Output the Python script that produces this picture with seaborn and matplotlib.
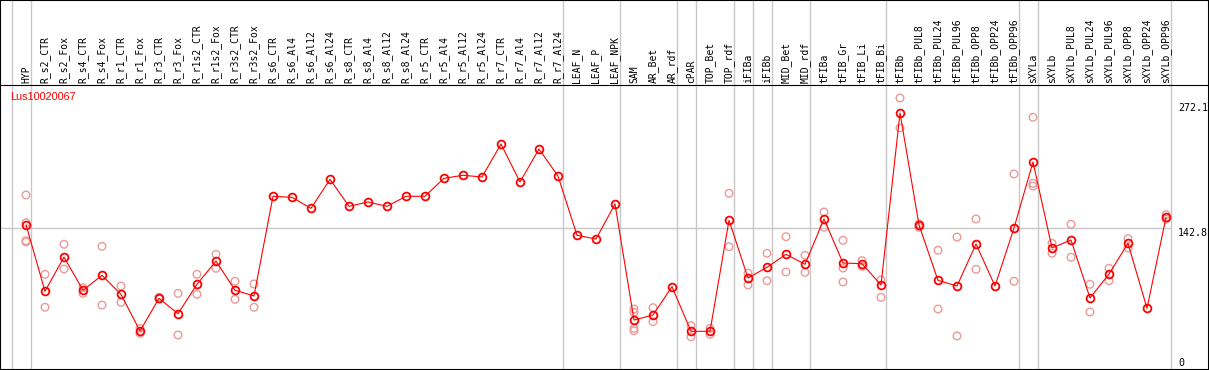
"""
Expression profile of one gene across sample groups
(mean line + individual replicate points), redrawn with seaborn.
"""
import matplotlib
matplotlib.use("Agg")
import matplotlib.pyplot as plt
import pandas as pd
import seaborn as sns

# ---- data -----------------------------------------------------------------
gene_id = "Lus10020067"

categories = [
    "HYP",
    "R_s2_CTR", "R_s2_Fox", "R_s4_CTR", "R_s4_Fox", "R_r1_CTR", "R_r1_Fox",
    "R_r3_CTR", "R_r3_Fox", "R_r1s2_CTR", "R_r1s2_Fox", "R_r3s2_CTR", "R_r3s2_Fox",
    "R_s6_CTR", "R_s6_Al4", "R_s6_Al12", "R_s6_Al24",
    "R_s8_CTR", "R_s8_Al4", "R_s8_Al12", "R_s8_Al24",
    "R_r5_CTR", "R_r5_Al4", "R_r5_Al12", "R_r5_Al24",
    "R_r7_CTR", "R_r7_Al4", "R_r7_Al12", "R_r7_Al24",
    "LEAF_N", "LEAF_P", "LEAF_NPK",
    "SAM", "AR_Bet", "AR_rdf",
    "cPAR",
    "TOP_Bet", "TOP_rdf",
    "iFIBa",
    "iFIBb",
    "MID_Bet", "MID_rdf",
    "tFIBa", "tFIB_Gr", "tFIB_Li", "tFIB_Bi",
    "tFIBb", "tFIBb_PUL8", "tFIBb_PUL24", "tFIBb_PUL96",
    "tFIBb_OPP8", "tFIBb_OPP24", "tFIBb_OPP96",
    "sXYLa",
    "sXYLb", "sXYLb_PUL8", "sXYLb_PUL24", "sXYLb_PUL96",
    "sXYLb_OPP8", "sXYLb_OPP24", "sXYLb_OPP96",
]

# number of samples in each block (separated by grey lines)
group_sizes = [1, 28, 3, 3, 1, 2, 1, 1, 2, 4, 7, 1, 7]

mean_values = [
    146.3,
    77.3, 112.8, 78.4, 93.9, 74.2, 36.2,
    70.1, 54.1, 84.6, 108.7, 78.4, 72.5,
    175.7, 174.6, 163.2, 193.3,
    165.3, 169.8, 165.3, 175.7,
    175.7, 194.3, 197.4, 195.7,
    229.8, 190.5, 224.6, 196.7,
    135.3, 131.5, 167.7,
    47.6, 52.8, 82.1,
    35.9,
    35.9, 150.8,
    91.1,
    102.2,
    115.6, 105.3,
    152.2, 106.6, 105.9, 83.9,
    261.9, 146.0, 88.7, 82.8,
    126.3, 82.8, 142.9,
    211.2,
    122.2, 130.4, 70.4, 95.2,
    127.0, 59.7, 153.9,
]

replicate_values = [
    [177.0, 148.3, 129.7, 128.4],
    [94.9, 60.8], [126.0, 100.4], [81.1, 75.2], [123.9, 63.1], [82.8, 65.9], [39.0, 33.8],
    [71.1, 69.4], [75.2, 32.1], [94.9, 74.2], [115.6, 101.1], [87.7, 69.0], [84.9, 60.8],
    [], [], [], [],
    [], [], [], [],
    [], [], [], [],
    [], [], [], [],
    [], [], [],
    [59.0, 55.6, 39.0, 36.5], [60.4, 45.9], [],
    [41.7, 30.3],
    [39.0, 32.8], [178.8, 123.5],
    [96.0, 83.9],
    [116.7, 88.3],
    [133.9, 97.3], [114.6, 97.0],
    [159.4, 143.6], [130.1, 101.4, 87.0], [109.0, 103.2], [89.0, 71.1],
    [277.4, 246.4], [147.0, 143.6], [119.8, 59.0], [133.5, 31.1],
    [152.2, 100.1], [], [198.8, 87.7],
    [257.5, 189.1, 186.3],
    [127.0, 116.7], [146.7, 112.5], [84.6, 55.9], [101.1, 88.3],
    [131.8, 122.2], [], [156.6, 151.9],
]

scale_labels = ["272.1", "142.8", "0"]
scale_values = [272.1, 142.8, 0.0]

# ---- layout (pixel geometry of the original 1209x370 image) ----------------
W, H = 1209, 370
X0, STEP = 26, 19          # pixel x of first sample, spacing between samples
Y0, PPU = 366, 0.966       # pixel y of value 0, pixels per unit


def px_x(p):
    return (p - X0) / STEP


def px_y(p):
    return (Y0 - p) / PPU


line_red = "#ff0000"
rep_red = "#eb9a9a"
grid_grey = "#c8c8c8"
mono = ["DejaVu Sans Mono"]

sns.set_style("white")
plt.rcParams["font.family"] = ["DejaVu Sans", "DejaVu Sans Mono"]

fig = plt.figure(figsize=(W / 100, H / 100), dpi=100)
ax = fig.add_axes([0, 0, 1, 1])
ax.set_xlim(px_x(0), px_x(W))
ax.set_ylim(px_y(H), px_y(0))

# block separators and reference line
bounds = [-0.75]
for n in group_sizes:
    bounds.append(bounds[-1] + n)
for b in bounds:
    ax.axvline(b, color=grid_grey, lw=1.0, zorder=1)
ax.hlines(scale_values[1], px_x(0), bounds[-1], color=grid_grey, lw=1.0, zorder=1)
ax.axhline(px_y(85), color="black", lw=0.8, zorder=2)

# replicates
rep_df = pd.DataFrame(
    [(i, v) for i, reps in enumerate(replicate_values) for v in reps],
    columns=["idx", "value"],
)
sns.scatterplot(data=rep_df, x="idx", y="value", ax=ax, s=30,
                facecolors="none", edgecolor=rep_red, linewidth=1.0, zorder=3)

# mean profile
mean_df = pd.DataFrame({"idx": range(len(categories)), "value": mean_values})
sns.lineplot(data=mean_df, x="idx", y="value", ax=ax, color=line_red, lw=0.8,
             marker="o", markersize=5.6, markerfacecolor="none",
             markeredgecolor=line_red, markeredgewidth=1.3, zorder=4)

# sample names along the top
for i, name in enumerate(categories):
    ax.text(i, px_y(83), name, rotation=90, ha="center", va="bottom",
            fontsize=7, family=mono, color="black")

ax.text(px_x(10), px_y(97), gene_id, ha="left", va="center",
        fontsize=7.8, family=["Liberation Sans"], color=line_red)

for lab, val, va in zip(scale_labels, [272.1, 142.8, px_y(368)],
                        ["top", "top", "bottom"]):
    ax.text(px_x(1178), val, lab, ha="left", va=va, fontsize=7.2,
            family=mono, color="black")

ax.set_xlabel("")
ax.set_ylabel("")
ax.set_xticks([])
ax.set_yticks([])
for sp in ax.spines.values():
    sp.set_visible(True)
    sp.set_color("black")
    sp.set_linewidth(1.5)

fig.savefig("out.png", dpi=100)
